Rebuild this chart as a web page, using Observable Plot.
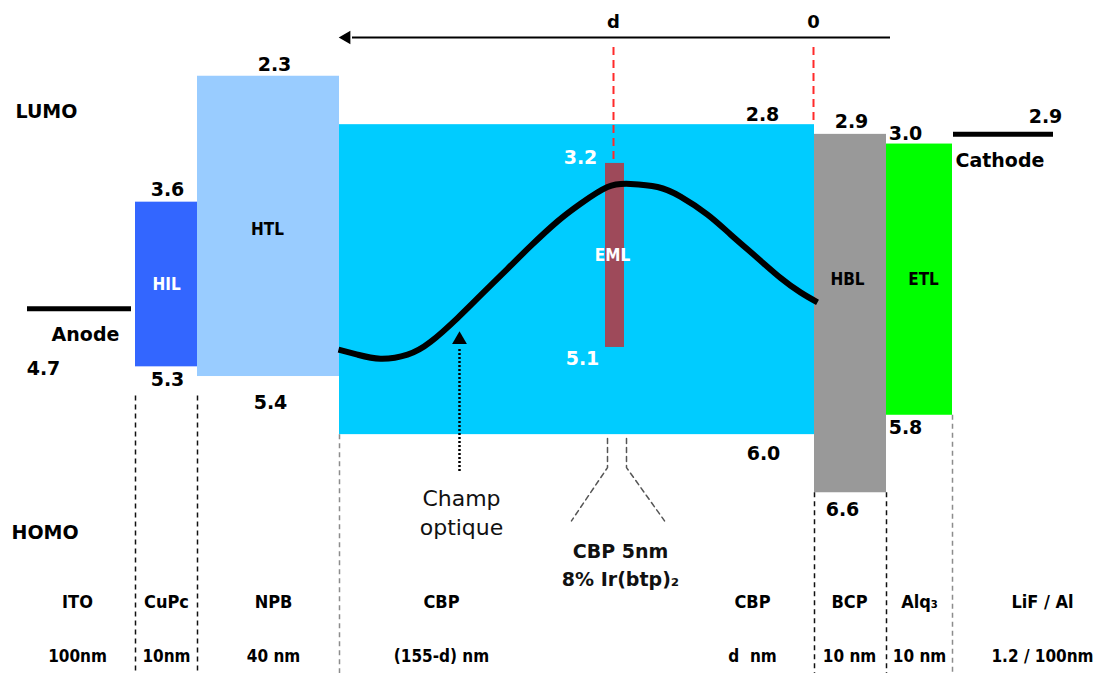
<!DOCTYPE html>
<html><head><meta charset="utf-8">
<script src="https://cdn.jsdelivr.net/npm/d3@7"></script>
<script src="https://cdn.jsdelivr.net/npm/@observablehq/plot@0.6"></script>
<style>
html,body{margin:0;padding:0;background:#fff;}
#chart{width:1104px;height:673px;}
</style></head><body><div id="chart"></div>
<script>
// ---- energy levels (eV) of the organic layers ----
const layers    = ["HIL", "HTL", "CBP", "EML", "HBL", "ETL"];
const lumo      = [3.6, 2.3, 2.8, 3.2, 2.9, 3.0];
const homo      = [5.3, 5.4, 6.0, 5.1, 6.6, 5.8];
// schematic position across the stack (diagram units)
const layerFrom = [13.5, 19.7, 33.9, 60.5, 81.4, 88.6];
const layerTo   = [19.7, 33.9, 81.4, 62.4, 88.6, 95.2];
const layerColors = ["#3366ff", "#99ccff", "#00ccff", "#9e4a5a", "#999999", "#00ff00"];

// ---- electrodes ----
const electrodes    = ["Anode", "Cathode"];
const workFunction  = [4.7, 2.9];
const electrodeFrom = [2.7, 95.3];
const electrodeTo   = [13.1, 105.3];

// ---- material / thickness rows ----
const materials   = ["ITO", "CuPc", "NPB", "CBP", "CBP", "BCP", "Alq₃", "LiF / Al"];
const thicknesses = ["100nm", "10nm", "40 nm", "(155-d) nm", "d  nm", "10 nm", "10 nm", "1.2 / 100nm"];
const materialPos = [7.7, 16.6, 27.3, 44.1, 75.2, 84.9, 91.9, 104.2];

// ---- dashed layer separators ----
const separatorPos   = [13.5, 19.7, 33.9, 81.4, 88.6, 95.2];
const separatorStart = [5.6, 5.6, 6.0, 6.6, 6.6, 5.8];

// ---- distance axis (top) ----
const distLabels = ["d", "0"];
const distPos    = [61.3, 81.3];
const distEnds   = [3.2, 2.8];   // EML LUMO, CBP LUMO

// ---- optical field in the CBP layer (fraction of CBP band height) ----
const fieldX   = [33.8, 35.7, 38.0, 40.7, 43.0, 45.7, 48.0, 50.7, 53.0, 55.7, 58.0, 60.7, 63.0, 65.7, 68.0, 70.7, 73.0, 75.7, 78.0, 80.0, 81.7];
const fieldAmp = [0.274, 0.258, 0.245, 0.258, 0.299, 0.376, 0.449, 0.535, 0.608, 0.688, 0.745, 0.799, 0.809, 0.799, 0.768, 0.710, 0.646, 0.570, 0.506, 0.459, 0.427];

// ---- built tables ----
const layerData = layers.map((name, i) => ({name, x1: layerFrom[i], x2: layerTo[i], lumo: lumo[i], homo: homo[i]}));
const elecData = electrodes.map((name, i) => ({name, E: workFunction[i], x1: electrodeFrom[i], x2: electrodeTo[i]}));
const cbp = layerData.find(d => d.name === "CBP");
const field = fieldX.map((x, i) => ({x, E: cbp.homo - fieldAmp[i] * (cbp.homo - cbp.lumo)}));

const bold = "DejaVu Sans";
const cond = "'DejaVu Sans Condensed', 'DejaVu Sans'";
const narrow = "'Liberation Sans Narrow', 'DejaVu Sans Condensed', 'DejaVu Sans'";

const levelLabels = [
  {x: 27.4, E: 2.3, dy: -11, fill: "black"},
  {x: 16.7, E: 3.6, dy: -12, fill: "black"},
  {x: 16.7, E: 5.3, dy: 13, fill: "black"},
  {x: 4.3,  E: 4.7, dy: 60, fill: "black"},
  {x: 27.0, E: 5.4, dy: 26, fill: "black"},
  {x: 76.2, E: 2.8, dy: -10, fill: "black"},
  {x: 58.0, E: 3.2, dy: -6, fill: "white"},
  {x: 58.2, E: 5.1, dy: 11, fill: "white"},
  {x: 76.3, E: 6.0, dy: 19, fill: "black"},
  {x: 85.1, E: 2.9, dy: -12, fill: "black"},
  {x: 84.2, E: 6.6, dy: 17, fill: "black"},
  {x: 90.5, E: 3.0, dy: -10, fill: "black"},
  {x: 90.5, E: 5.8, dy: 13, fill: "black"},
  {x: 104.5, E: 2.9, dy: -17, fill: "black"}
];
const boxLabels = [
  {t: "HIL", x: 16.6, E: 4.45, fill: "white"},
  {t: "HTL", x: 26.7, E: 3.88, fill: "black"},
  {t: "EML", x: 61.2, E: 4.15, fill: "white"},
  {t: "HBL", x: 84.7, E: 4.4, fill: "black"},
  {t: "ETL", x: 92.3, E: 4.4, fill: "black"}
];

const chart = Plot.plot({
  width: 1104, height: 673, margin: 0,
  x: {domain: [0, 110.4], axis: null},
  y: {domain: [8.466, 1.518], axis: null},
  color: {domain: layers, range: layerColors},
  style: {background: "white", fontFamily: bold},
  marks: [
    Plot.rect(layerData, {x1: "x1", x2: "x2", y1: "lumo", y2: "homo", fill: "name"}),
    Plot.ruleY(elecData, {y: "E", x1: "x1", x2: "x2", stroke: "black", strokeWidth: 5}),
    Plot.ruleX(separatorPos, {x: d => d, y1: (d, i) => separatorStart[i], y2: 8.466,
      stroke: (d, i) => (i === 2 || i === 5) ? "#8c8c8c" : "#111",
      strokeWidth: 1.5, strokeDasharray: "5,4"}),
    // distance axis
    Plot.ruleY([1.9], {x1: 35.2, x2: 89.0, stroke: "black", strokeWidth: 2}),
    Plot.dot([1.9], {x: 34.6, y: d => d, symbol: "triangle", rotate: -90, r: 5, fill: "black", stroke: "none"}),
    Plot.ruleX(distPos, {x: d => d, y1: 1.9, y2: (d, i) => distEnds[i], insetTop: 10,
      stroke: "#ff2a2a", strokeWidth: 2, strokeDasharray: "8,5"}),
    Plot.text(distLabels, {x: (d, i) => distPos[i], y: 1.9, dy: -15, text: d => d,
      fontSize: 18, fontWeight: "bold", fill: "black"}),
    // optical field
    Plot.line(field, {x: "x", y: "E", curve: "natural", stroke: "black", strokeWidth: 6, strokeLinecap: "butt"}),
    // Champ optique pointer
    Plot.ruleX([45.9], {x: d => d, y1: 6.38, y2: 5.1, stroke: "black", strokeWidth: 2.5, strokeDasharray: "2,2"}),
    Plot.dot([45.9], {x: d => d, y: 5.02, symbol: "triangle", r: 5.5, fill: "black", stroke: "none"}),
    Plot.text(["Champ\noptique"], {x: 46.1, y: 6.79, text: d => d, fontSize: 22, lineHeight: 1.32,
      fontFamily: "DejaVu Sans", fill: "#111"}),
    // EML splay
    Plot.line([
      {x: 60.7, E: 6.04, s: "l"}, {x: 60.7, E: 6.34, s: "l"}, {x: 57.1, E: 6.89, s: "l"},
      {x: 62.6, E: 6.04, s: "r"}, {x: 62.6, E: 6.34, s: "r"}, {x: 66.4, E: 6.89, s: "r"}
    ], {x: "x", y: "E", z: "s", stroke: "#555", strokeWidth: 1.5, strokeDasharray: "5,4"}),
    Plot.text(["CBP 5nm\n8% Ir(btp)₂"], {x: 62.0, y: 7.325, text: d => d, fontSize: 19, lineHeight: 1.5,
      fontWeight: "bold", fill: "#111"}),
    // level values (one mark per label so each keeps its own offset)
    ...levelLabels.map(d => Plot.text([d], {x: "x", y: "E", dy: d.dy, text: v => v.E.toFixed(1),
      fill: d.fill, fontSize: 19, fontWeight: "bold"})),
    // electrode names
    Plot.text(["Anode"], {x: 8.5, y: 4.7, dy: 26, text: d => d, fontSize: 19, fontWeight: "bold", fill: "black"}),
    Plot.text(["Cathode"], {x: 95.5, y: 2.9, dy: 27, text: d => d, textAnchor: "start", fontSize: 19, fontWeight: "bold", fill: "black"}),
    // layer labels
    Plot.text(boxLabels, {x: "x", y: "E", text: "t", fill: "fill", fontSize: 17, fontWeight: "bold", fontFamily: narrow}),
    // LUMO / HOMO
    Plot.text(["LUMO"], {x: 1.5, y: 2.664, text: d => d, textAnchor: "start", fontSize: 19, fontWeight: "bold", fill: "black"}),
    Plot.text(["HOMO"], {x: 1.1, y: 7.01, text: d => d, textAnchor: "start", fontSize: 19, fontWeight: "bold", fill: "black"}),
    // material rows
    Plot.text(materials, {x: (d, i) => materialPos[i], frameAnchor: "bottom", dy: -66, text: d => d,
      fontSize: 18, fontWeight: "bold", fontFamily: cond, fill: "black"}),
    Plot.text(thicknesses, {x: (d, i) => materialPos[i], frameAnchor: "bottom", dy: -12, text: d => d,
      fontSize: 17, fontWeight: "bold", fontFamily: cond, fill: "black"})
  ]
});
document.getElementById("chart").appendChild(chart);
</script></body></html>
